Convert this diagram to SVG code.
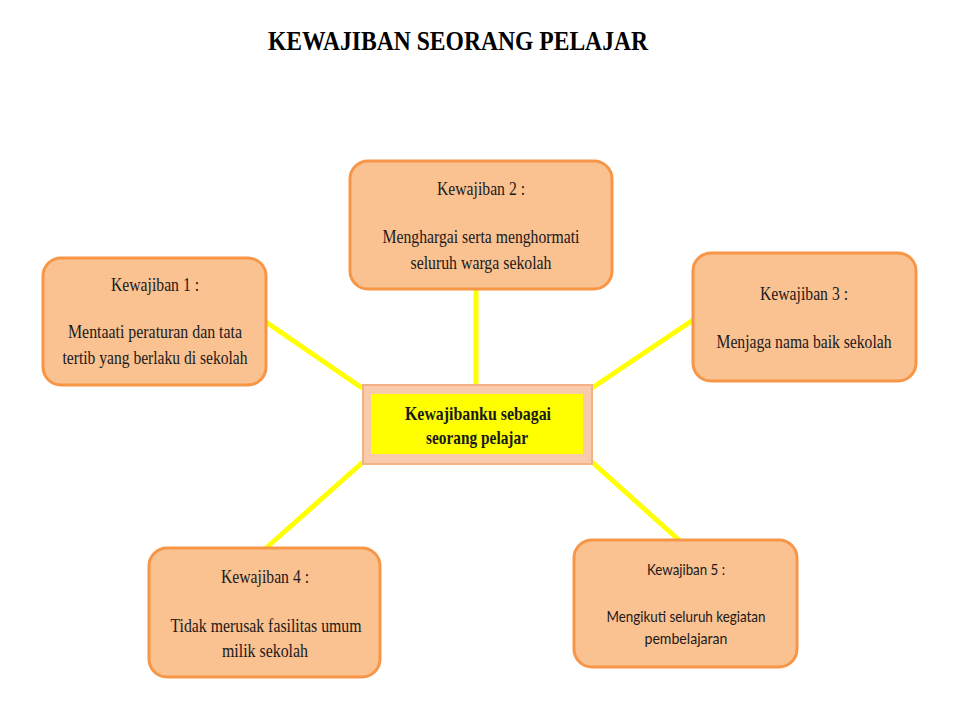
<svg xmlns="http://www.w3.org/2000/svg" width="960" height="720" viewBox="0 0 960 720">
<style>
.box{fill:#fac191;stroke:#f79646;stroke-width:3}
.t{font-family:"Liberation Serif",serif;font-size:18px;fill:#1a1a1a;text-anchor:middle}
.s{font-family:Lato,"Liberation Sans",sans-serif;font-size:16px;fill:#1a1a1a;text-anchor:middle}
.c{stroke:#ffff00;stroke-width:5;fill:none}
</style>
<rect width="960" height="720" fill="#ffffff"/>
<text x="458" y="50" font-family="Liberation Serif,serif" font-size="27" font-weight="bold" text-anchor="middle" textLength="380" lengthAdjust="spacingAndGlyphs" fill="#000">KEWAJIBAN SEORANG PELAJAR</text>
<g id="connectors">
<line class="c" x1="476" y1="289" x2="476" y2="386"/>
<line class="c" x1="266" y1="322" x2="362" y2="388"/>
<line class="c" x1="693" y1="320" x2="592" y2="388"/>
<line class="c" x1="265" y1="549" x2="363" y2="462"/>
<line class="c" x1="680" y1="541" x2="592" y2="462"/>
</g>
<g id="center">
<rect x="363" y="385" width="229" height="79" fill="#f8cbad" stroke="#f4b183" stroke-width="2"/>
<rect x="371" y="394" width="212" height="60" fill="#ffff00"/>
<text x="478" y="420" font-family="Liberation Serif,serif" font-size="19" font-weight="bold" text-anchor="middle" textLength="146" lengthAdjust="spacingAndGlyphs" fill="#1a1a1a">Kewajibanku sebagai</text>
<text x="477" y="444" font-family="Liberation Serif,serif" font-size="19" font-weight="bold" text-anchor="middle" textLength="102" lengthAdjust="spacingAndGlyphs" fill="#1a1a1a">seorang pelajar</text>
</g>
<g id="k1">
<rect class="box" x="43" y="258" width="223" height="127" rx="18"/>
<text class="t" x="155" y="291" textLength="88" lengthAdjust="spacingAndGlyphs">Kewajiban 1 :</text>
<text class="t" x="155" y="338" textLength="174" lengthAdjust="spacingAndGlyphs">Mentaati peraturan dan tata</text>
<text class="t" x="155" y="364" textLength="185" lengthAdjust="spacingAndGlyphs">tertib yang berlaku di sekolah</text>
</g>
<g id="k2">
<rect class="box" x="350" y="161" width="262" height="128" rx="18"/>
<text class="t" x="481" y="195" textLength="88" lengthAdjust="spacingAndGlyphs">Kewajiban 2 :</text>
<text class="t" x="481" y="243" textLength="197" lengthAdjust="spacingAndGlyphs">Menghargai serta menghormati</text>
<text class="t" x="481" y="269" textLength="141" lengthAdjust="spacingAndGlyphs">seluruh warga sekolah</text>
</g>
<g id="k3">
<rect class="box" x="693" y="253" width="223" height="128" rx="18"/>
<text class="t" x="804" y="300" textLength="88" lengthAdjust="spacingAndGlyphs">Kewajiban 3 :</text>
<text class="t" x="804" y="348" textLength="175" lengthAdjust="spacingAndGlyphs">Menjaga nama baik sekolah</text>
</g>
<g id="k4">
<rect class="box" x="149" y="548" width="231" height="129" rx="18"/>
<text class="t" x="265" y="583" textLength="88" lengthAdjust="spacingAndGlyphs">Kewajiban 4 :</text>
<text class="t" x="266" y="632" textLength="191" lengthAdjust="spacingAndGlyphs">Tidak merusak fasilitas umum</text>
<text class="t" x="265" y="657" textLength="86" lengthAdjust="spacingAndGlyphs">milik sekolah</text>
</g>
<g id="k5">
<rect class="box" x="574" y="540" width="223" height="127" rx="18"/>
<text class="s" x="686" y="575" textLength="78" lengthAdjust="spacingAndGlyphs">Kewajiban 5 :</text>
<text class="s" x="686" y="622" textLength="159" lengthAdjust="spacingAndGlyphs">Mengikuti seluruh kegiatan</text>
<text class="s" x="686" y="644" textLength="83" lengthAdjust="spacingAndGlyphs">pembelajaran</text>
</g>
</svg>
